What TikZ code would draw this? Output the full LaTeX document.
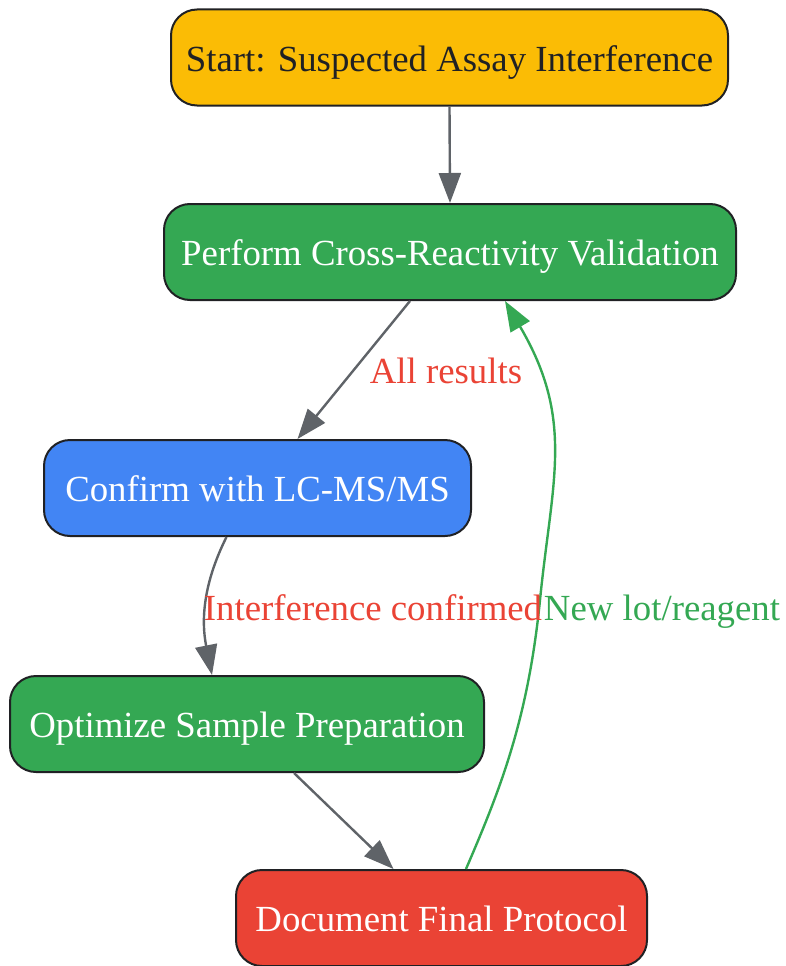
\documentclass[tikz,border=0pt]{standalone}
\usepackage{fontspec}
\setmainfont{Liberation Serif}
\usetikzlibrary{arrows.meta,calc}
\definecolor{gyellow}{HTML}{FBBC05}
\definecolor{ggreen}{HTML}{34A853}
\definecolor{gblue}{HTML}{4285F4}
\definecolor{gred}{HTML}{EA4335}
\definecolor{ggray}{HTML}{5F6368}
\definecolor{gdark}{HTML}{202124}
\tikzset{
  box/.style={draw=gdark, line width=2pt, rounded corners=26pt, minimum height=96pt, inner sep=0pt, font=\fontsize{36.8}{44}\selectfont, text=white, text height=27pt, text depth=0pt},
  conn/.style={draw=ggray, line width=2.4pt, -{Triangle[length=30pt,width=22pt]}},
  gconn/.style={draw=ggreen, line width=2.4pt, -{Triangle[length=30pt,width=22pt]}},
  lbl/.style={font=\fontsize{36.8}{44}\selectfont, inner sep=0pt, anchor=base}
}
\begin{document}
\begin{tikzpicture}[x=1pt,y=-1pt]
\useasboundingbox (0,0) rectangle (785,966);
\node[box, fill=gyellow, text=gdark, minimum width=557pt] (start) at (449.5,57.5) {Start: Suspected Assay Interference};
\node[box, fill=ggreen, minimum width=572pt] (perf) at (450,252) {Perform Cross-Reactivity Validation};
\node[box, fill=gblue, minimum width=427pt] (conf) at (257.5,488) {Confirm with LC-MS/MS};
\node[box, fill=ggreen, minimum width=474pt] (opt) at (247,724) {Optimize Sample Preparation};
\node[box, fill=gred, minimum width=411pt] (doc) at (441.5,918) {Document Final Protocol};

\draw[conn] (start.south) -- (perf.north);
\draw[conn] ($(perf.south)+(-40,0)$) -- ($(conf.north)+(40,0)$);
\draw[conn] ($(conf.south)+(-31,0)$) .. controls (206,578) and (200,615) .. ($(opt.north)+(-35,0)$);
\draw[conn] ($(opt.south)+(47,0)$) -- ($(doc.north)+(-48,0)$);
\draw[gconn] ($(doc.north)+(24.5,0)$) .. controls (500,790) and (528,720) .. (540,600)
  .. controls (552,480) and (575,420) .. ($(perf.south)+(55,0)$);

\node[lbl, text=gred] (l1) at (446,383) {All results};
\node[lbl, text=gred] (l2) at (373,620) {Interference confirmed};
\node[lbl, text=ggreen] (l3) at (662,620) {New lot/reagent};
\end{tikzpicture}
\end{document}
